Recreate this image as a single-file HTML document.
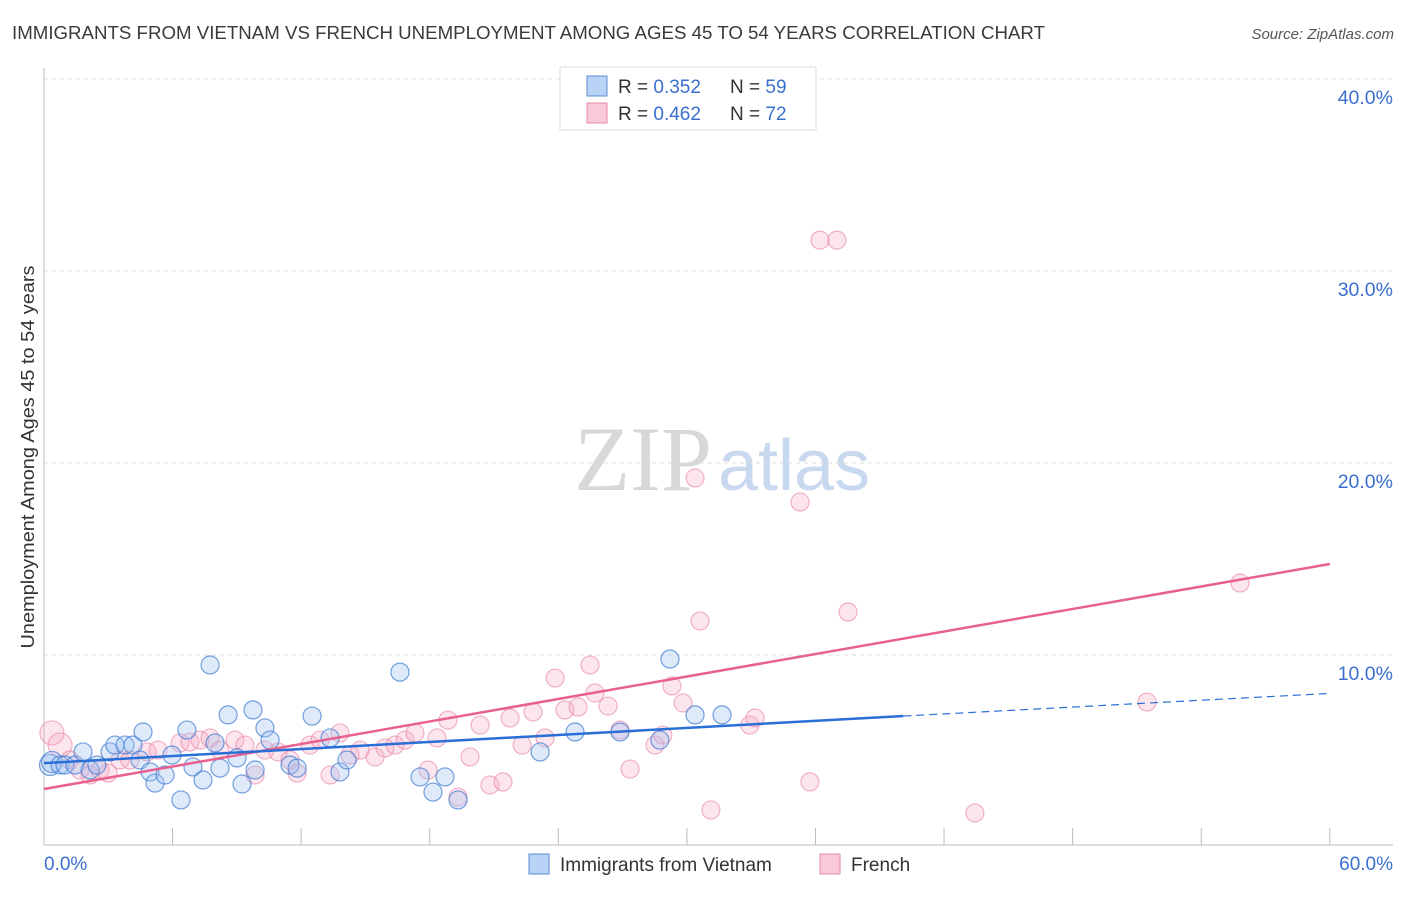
<!DOCTYPE html>
<html><head><meta charset="utf-8"><style>
body{margin:0;background:#fff;font-family:"Liberation Sans",sans-serif;}
svg text{font-family:"Liberation Sans",sans-serif;}
</style></head><body>
<svg id="c" width="1406" height="892">
<text x="12" y="39" font-size="18" fill="#3a3a3a" textLength="1033" lengthAdjust="spacingAndGlyphs">IMMIGRANTS FROM VIETNAM VS FRENCH UNEMPLOYMENT AMONG AGES 45 TO 54 YEARS CORRELATION CHART</text>
<text x="1394" y="39" font-size="15" fill="#555" font-style="italic" text-anchor="end">Source: ZipAtlas.com</text>
<text transform="translate(34,457) rotate(-90)" font-size="18" fill="#333" text-anchor="middle" textLength="383" lengthAdjust="spacingAndGlyphs">Unemployment Among Ages 45 to 54 years</text>
<text x="712" y="490" font-size="92" fill="#d8d8d8" text-anchor="end" style="font-family:'Liberation Serif',serif">ZIP</text>
<text x="718" y="490" font-size="72" fill="#c8d8ee">atlas</text>
<g id="grid"></g><g id="marks"></g>
<g>
<rect x="560" y="67" width="256" height="63" fill="#fff" stroke="#ddd"/>
<rect x="587" y="76" width="20" height="20" fill="#b8d3f5" stroke="#5b8fd6"/>
<rect x="587" y="103" width="20" height="20" fill="#f9c9d7" stroke="#e88aa7"/>
<text x="618" y="93" font-size="19" fill="#333">R = <tspan fill="#3a6fd0">0.352</tspan></text>
<text x="730" y="93" font-size="19" fill="#333">N = <tspan fill="#3a6fd0">59</tspan></text>
<text x="618" y="120" font-size="19" fill="#333">R = <tspan fill="#3a6fd0">0.462</tspan></text>
<text x="730" y="120" font-size="19" fill="#333">N = <tspan fill="#3a6fd0">72</tspan></text>
</g>
<g>
<rect x="529" y="854" width="20" height="20" fill="#b8d3f5" stroke="#5b8fd6"/>
<text x="560" y="871" font-size="19" fill="#333">Immigrants from Vietnam</text>
<rect x="820" y="854" width="20" height="20" fill="#f9c9d7" stroke="#e88aa7"/>
<text x="851" y="871" font-size="19" fill="#333">French</text>
</g>
</svg>
<script>
const yTicks=[10,20,30,40];
const yTickLabels=["10.0%","20.0%","30.0%","40.0%"];
const xEndLabels=["0.0%","60.0%"];
const blueX=[0.28,0.37,0.75,0.98,1.45,1.82,2.15,2.47,3.08,3.31,3.78,4.15,4.48,4.62,4.95,5.18,5.65,5.97,6.39,6.67,6.95,7.42,7.75,7.98,8.21,8.59,9.01,9.24,9.75,9.85,10.31,10.55,11.48,11.81,12.51,13.35,13.81,14.14,16.61,17.55,18.15,18.71,19.32,23.15,24.78,26.88,28.74,29.21,30.38,31.64];
const blueY=[4.27,4.43,4.27,4.27,4.27,4.95,4.01,4.27,4.95,5.31,5.31,5.31,4.53,5.99,3.91,3.33,3.75,4.79,2.45,6.09,4.17,3.49,9.48,5.42,4.11,6.88,4.64,3.28,7.14,4.01,6.2,5.57,4.27,4.11,6.82,5.68,3.91,4.53,9.11,3.65,2.86,3.65,2.45,4.95,5.99,5.99,5.57,9.79,6.88,6.88];
const pinkX=[0.37,0.75,1.21,1.68,2.15,2.61,2.99,3.55,4.01,4.81,5.32,6.35,6.81,7.28,7.75,8.21,8.91,9.38,9.85,10.31,10.92,11.48,11.81,12.41,12.88,13.35,13.81,14.28,14.75,15.45,15.91,16.38,16.85,17.31,17.92,18.34,18.85,19.32,19.88,20.35,20.81,21.42,21.75,22.31,22.82,23.38,23.85,24.31,24.92,25.48,25.71,26.32,26.88,27.35,28.51,28.88,29.3,29.82,30.61,30.38,31.12,32.94,33.18,35.74,35.28,36.21,37.0,37.52,43.44,51.47,55.81];
const pinkY=[5.94,5.31,4.53,4.01,3.75,4.01,3.85,4.53,4.53,4.95,5.05,5.42,5.47,5.57,5.68,5.05,5.57,5.31,3.75,5.05,4.95,4.53,3.85,5.31,5.57,3.75,5.94,4.79,5.05,4.69,5.16,5.31,5.57,5.94,4.01,5.68,6.61,2.6,4.69,6.35,3.23,3.39,6.72,5.31,7.03,5.68,8.8,7.14,7.29,9.48,8.02,7.34,6.09,4.06,5.31,5.83,8.39,7.5,11.77,19.22,1.93,6.35,6.72,3.39,17.97,31.61,31.61,12.24,1.77,7.55,13.75];
const blueFit=[[0,4.37],[40.1,6.82],[60,8.0]];
const pinkFit=[[0,3.02],[60,14.74]];
const X=v=>44+v*21.43, Y=v=>847-v*19.2;
const NS="http://www.w3.org/2000/svg";
function mk(t,a,p){const e=document.createElementNS(NS,t);for(const k in a)e.setAttribute(k,a[k]);p.appendChild(e);return e;}
const g=document.getElementById('grid'), m=document.getElementById('marks');
yTicks.forEach((t,i)=>{
 const l=mk('line',{x1:44,x2:1393,y1:Y(t),y2:Y(t),stroke:'#ddd','stroke-dasharray':'4,4'},g);
 
 
 const tx=mk('text',{x:1393,y:Y(t)+25,'font-size':19.5,fill:'#3a6fd0','text-anchor':'end'},g);tx.textContent=yTickLabels[i];
 
 
});
const ax=mk('line',{x1:44,x2:44,y1:68,y2:845,stroke:'#bbb'},g);


const bx=mk('line',{x1:44,x2:1393,y1:845,y2:845,stroke:'#bbb'},g);


for(let v=6;v<=60;v+=6){const tk=mk('line',{x1:X(v),x2:X(v),y1:828,y2:845,stroke:'#bbb'},g);
 
 }
[[0,'start',44],[60,'end',1393]].forEach((d,i)=>{const t=mk('text',{x:d[2],y:870,'font-size':19,fill:'#3a6fd0','text-anchor':d[1]},g);t.textContent=xEndLabels[i];
 
 });
pinkX.forEach((x,i)=>{const c=mk('circle',{cx:X(x),cy:Y(pinkY[i]),r:i<2?12:9,fill:'rgba(246,170,195,0.3)',stroke:'rgba(232,130,165,0.6)','stroke-width':1.2},m);
 
 });
blueX.forEach((x,i)=>{const c=mk('circle',{cx:X(x),cy:Y(blueY[i]),r:i<2?10.5:9,fill:'rgba(160,195,240,0.35)',stroke:'rgba(60,120,210,0.7)','stroke-width':1.2},m);
 
 });
const pl=mk('line',{x1:X(pinkFit[0][0]),y1:Y(pinkFit[0][1]),x2:X(pinkFit[1][0]),y2:Y(pinkFit[1][1]),stroke:'#e8608e','stroke-width':2.5},m);


const bl=mk('line',{x1:X(blueFit[0][0]),y1:Y(blueFit[0][1]),x2:X(blueFit[1][0]),y2:Y(blueFit[1][1]),stroke:'#2a6fd6','stroke-width':2.5},m);


const bd=mk('line',{x1:X(blueFit[1][0]),y1:Y(blueFit[1][1]),x2:X(blueFit[2][0]),y2:Y(blueFit[2][1]),stroke:'#2a6fd6','stroke-width':1.2,'stroke-dasharray':'8,5'},m);


</script>
</body></html>
